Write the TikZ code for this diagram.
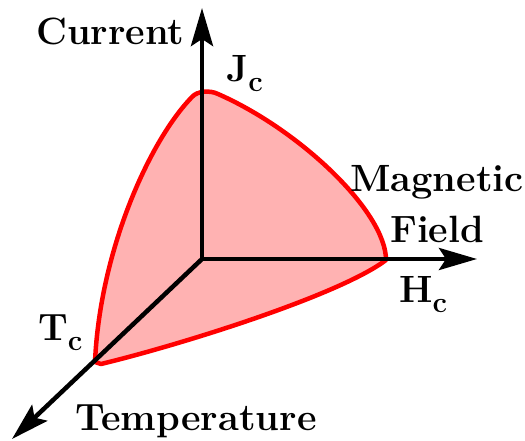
\documentclass[tikz,border=0pt]{standalone}
\usetikzlibrary{arrows.meta}
\definecolor{phasered}{RGB}{255, 0, 0}
\tikzset{
  axis/.style={
    line width=4.5pt,
    -{Stealth[length=38pt, width=22pt, inset=7pt]}
  },
  boundary/.style={
    draw=phasered, line width=4.5pt, line join=round,
    fill=phasered!30
  },
  axislabel/.style={
    font=\rmfamily\bfseries\fontsize{38}{40}\selectfont, inner sep=0pt
  }
}
\newcommand{\lowsub}[1]{\raisebox{-10pt}{\fontsize{29}{30}\selectfont #1}}

\begin{document}
\begin{tikzpicture}[x=1pt, y=-1pt]
  \useasboundingbox (0,0) rectangle (525,441);

  % ── Axis end points ────────────────────────────────────
  \coordinate (origin) at (202,259);
  \coordinate (jtip)   at (202,8);
  \coordinate (htip)   at (477,259);
  \coordinate (ttip)   at (12,439);

  % ── Critical points ────────────────────────────────────
  \coordinate (jc) at (204,92);
  \coordinate (hc) at (386,260);
  \coordinate (tc) at (95,362);

  % ── Critical surface ───────────────────────────────────
  \path[boundary]
    (tc) .. controls (100,250) and (150,140) .. (192,97)
         .. controls (197,91) and (210,90) .. (218,94)
         .. controls (300,130) and (386,212) .. (hc)
         .. controls (340,295) and (180,345) .. (101,364)
         -- cycle;

  % ── Axes ───────────────────────────────────────────────
  \draw[axis] (origin) -- (jtip);
  \draw[axis] (origin) -- (htip);
  \draw[axis] (origin) -- (ttip);

  % ── Labels ─────────────────────────────────────────────
  \node[axislabel, anchor=base west] (current) at (36,45) {Current};
  \node[axislabel, anchor=base west] (jlabel)  at (226,82) {J\lowsub{c}};
  \node[axislabel, anchor=base west] (magnetic) at (350,192) {Magnetic};
  \node[axislabel, anchor=base west] (field)   at (390,242) {Field};
  \node[axislabel, anchor=base west] (hlabel)  at (399,302) {H\lowsub{c}};
  \node[axislabel, anchor=base west] (tlabel)  at (38,340) {T\lowsub{c}};
  \node[axislabel, anchor=base west] (temperature) at (75,430) {Temperature};

\end{tikzpicture}
\end{document}
